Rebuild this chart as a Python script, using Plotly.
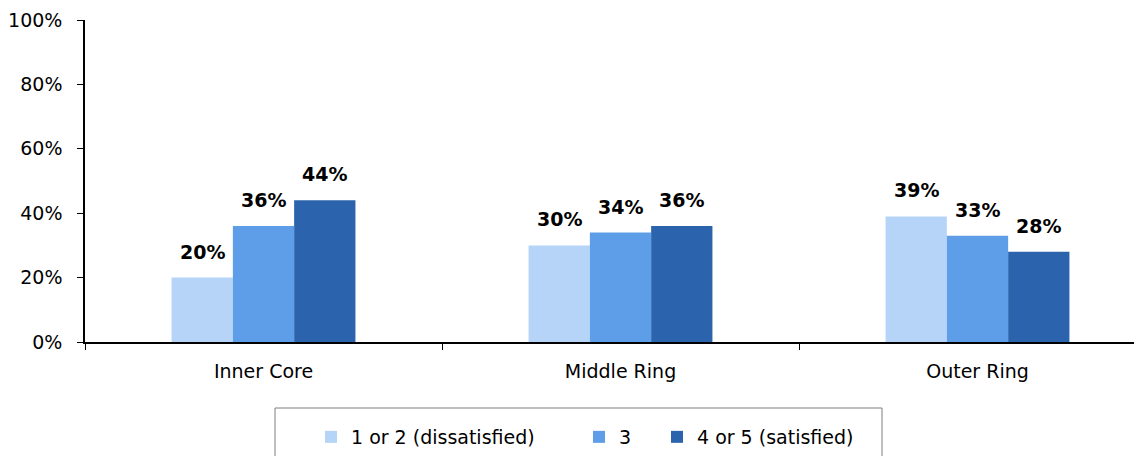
import plotly.graph_objects as go

categories = ["Inner Core", "Middle Ring", "Outer Ring"]
series_names = ["1 or 2 (dissatisfied)", "3", "4 or 5 (satisfied)"]
dissatisfied = [0.20, 0.30, 0.39]
neutral = [0.36, 0.34, 0.33]
satisfied = [0.44, 0.36, 0.28]
y_ticks = [0, 0.2, 0.4, 0.6, 0.8, 1.0]

colors = ["#B6D4F7", "#5E9DE8", "#2B64AC"]
series_values = [dissatisfied, neutral, satisfied]

FONT = "DejaVu Sans"
OFF = 8  # page body margin
W, H = 1142, 456
ML, MR, MT, MB = 77, 8, 12, 122
plot_w = W - ML - MR
plot_h = H - MT - MB
cat_px = 357.0


def px_x(p):
    return (p - OFF - ML) / plot_w


def px_y(p):
    return (H - MB - (p - OFF)) / plot_h


fig = go.Figure()
legend_ids = ["legend", "legend2", "legend3"]
for name, vals, col, lid in zip(series_names, series_values, colors, legend_ids):
    fig.add_trace(go.Bar(
        x=categories, y=vals, name=name, legend=lid,
        marker=dict(color=col, line=dict(color=col, width=0)),
    ))

bar_px = cat_px * (1 - 0.485) / 3
for i, vals in enumerate(series_values):
    for c, v in zip(categories, vals):
        fig.add_annotation(
            x=c, y=v, xref="x", yref="y",
            text="<b>%d%%</b>" % round(v * 100),
            showarrow=False, yanchor="bottom", xanchor="center",
            xshift=(i - 1) * bar_px, yshift=13,
            font=dict(family=FONT, size=19, color="#000000"),
        )

fig.add_shape(type="rect", xref="paper", yref="paper",
              x0=px_x(275), x1=px_x(882), y0=px_y(408), y1=px_y(480),
              line=dict(color="#7F7F7F", width=1), fillcolor="rgba(0,0,0,0)")

legend_common = dict(orientation="h", yanchor="top", y=px_y(418),
                     xanchor="left", bgcolor="rgba(0,0,0,0)", borderwidth=0,
                     font=dict(family=FONT, size=19, color="#000000"),
                     itemwidth=30)

fig.update_layout(
    width=W, height=H,
    margin=dict(l=ML, r=MR, t=MT, b=MB, autoexpand=False),
    paper_bgcolor="white", plot_bgcolor="white",
    barmode="group", bargap=0.485, bargroupgap=0,
    font=dict(family=FONT, size=19, color="#000000"),
    showlegend=True,
    legend=dict(x=px_x(311), **legend_common),
    legend2=dict(x=px_x(579), **legend_common),
    legend3=dict(x=px_x(657), **legend_common),
    xaxis=dict(range=[-0.5, -0.5 + plot_w / cat_px],
               automargin=False,
               showline=True, linecolor="#000000", linewidth=2,
               ticks="outside", tickson="boundaries", ticklen=6,
               tickcolor="#000000", showgrid=False,
               ticklabelstandoff=11,
               tickfont=dict(family=FONT, size=19)),
    yaxis=dict(range=[0, 1], tickvals=y_ticks, tickformat=".0%",
               automargin=False,
               showline=True, linecolor="#000000", linewidth=1.5,
               ticks="outside", ticklen=6, tickcolor="#000000",
               showgrid=False, zeroline=False,
               ticklabelstandoff=11,
               tickfont=dict(family=FONT, size=19)),
)

fig.write_html("out.html")
